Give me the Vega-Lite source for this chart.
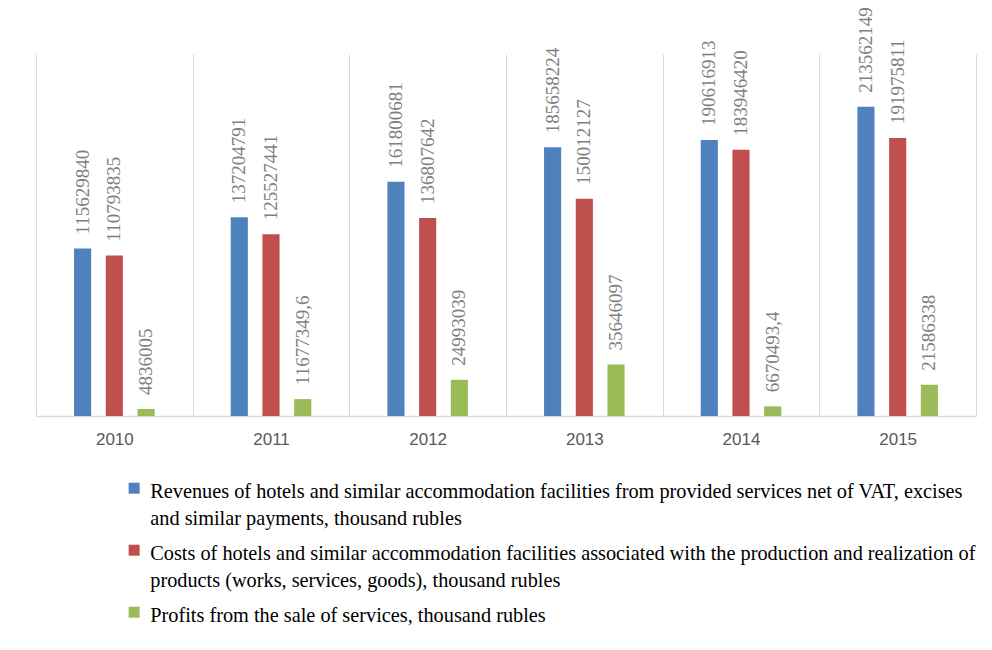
{
  "$schema": "https://vega.github.io/schema/vega-lite/v6.json",
  "autosize": {"type": "none"},
  "width": 940,
  "height": 362,
  "padding": {"left": 36, "top": 54, "right": 16, "bottom": 234},
  "background": "white",
  "data": {
    "values": [
      {"year": "2010", "series": "Revenues", "value": 115629840},
      {"year": "2010", "series": "Costs", "value": 110793835},
      {"year": "2010", "series": "Profits", "value": 4836005},
      {"year": "2011", "series": "Revenues", "value": 137204791},
      {"year": "2011", "series": "Costs", "value": 125527441},
      {"year": "2011", "series": "Profits", "value": 11677349.6},
      {"year": "2012", "series": "Revenues", "value": 161800681},
      {"year": "2012", "series": "Costs", "value": 136807642},
      {"year": "2012", "series": "Profits", "value": 24993039},
      {"year": "2013", "series": "Revenues", "value": 185658224},
      {"year": "2013", "series": "Costs", "value": 150012127},
      {"year": "2013", "series": "Profits", "value": 35646097},
      {"year": "2014", "series": "Revenues", "value": 190616913},
      {"year": "2014", "series": "Costs", "value": 183946420},
      {"year": "2014", "series": "Profits", "value": 6670493.4},
      {"year": "2015", "series": "Revenues", "value": 213562149},
      {"year": "2015", "series": "Costs", "value": 191975811},
      {"year": "2015", "series": "Profits", "value": 21586338}
    ]
  },
  "transform": [
    {"calculate": "replace(toString(datum.value), '.', ',')", "as": "label"}
  ],
  "encoding": {
    "x": {
      "field": "year",
      "type": "nominal",
      "scale": {"paddingInner": 0, "paddingOuter": 0},
      "axis": {
        "title": null,
        "labelAngle": 0,
        "labelFont": "Liberation Sans",
        "labelFontSize": 17,
        "labelColor": "#595959",
        "labelPadding": 15,
        "ticks": false,
        "domainColor": "#d9d9d9",
        "domainWidth": 1.5,
        "grid": true,
        "gridColor": "#d9d9d9",
        "gridWidth": 1,
        "tickBand": "extent"
      }
    },
    "xOffset": {
      "field": "series",
      "type": "nominal",
      "scale": {"domain": ["L", "Revenues", "Costs", "Profits", "R"], "paddingInner": 0.46, "paddingOuter": 0.2}
    },
    "y": {
      "field": "value",
      "type": "quantitative",
      "scale": {"domain": [0, 250000000], "nice": false},
      "axis": null
    }
  },
  "layer": [
    {
      "mark": {"type": "bar"},
      "encoding": {
        "color": {
          "field": "series",
          "type": "nominal",
          "scale": {
            "domain": ["Revenues", "Costs", "Profits"],
            "range": ["#4f81bd", "#c0504d", "#9bbb59"]
          },
          "legend": {
            "orient": "none",
            "legendX": 88,
            "legendY": 418,
            "direction": "vertical",
            "title": null,
            "padding": 0,
            "symbolType": "M-1,0.1H1V2.1H-1Z",
            "symbolSize": 121,
            "symbolStrokeWidth": 0,
            "labelFont": "Liberation Serif",
            "labelFontSize": 20.3,
            "labelColor": "#000000",
            "labelLimit": 0,
            "labelOffset": 6,
            "labelBaseline": "top",
            "rowPadding": 5,
            "labelExpr": "datum.label == 'Revenues' ? ['Revenues of hotels and similar accommodation facilities from provided services net of VAT, excises', 'and similar payments, thousand rubles'] : datum.label == 'Costs' ? ['Costs of hotels and similar accommodation facilities associated with the production and realization of', 'products (works, services, goods), thousand rubles'] : 'Profits from the sale of services, thousand rubles'"
          }
        }
      }
    },
    {
      "mark": {
        "type": "text",
        "angle": 270,
        "align": "left",
        "baseline": "middle",
        "dx": 14,
        "font": "Liberation Sans Narrow",
        "fontSize": 19,
        "color": "#7f7f7f"
      },
      "encoding": {
        "text": {"field": "label", "type": "nominal"}
      }
    }
  ],
  "config": {
    "view": {"stroke": null},
    "style": {"guide-label": {"lineHeight": 26.5}}
  }
}
